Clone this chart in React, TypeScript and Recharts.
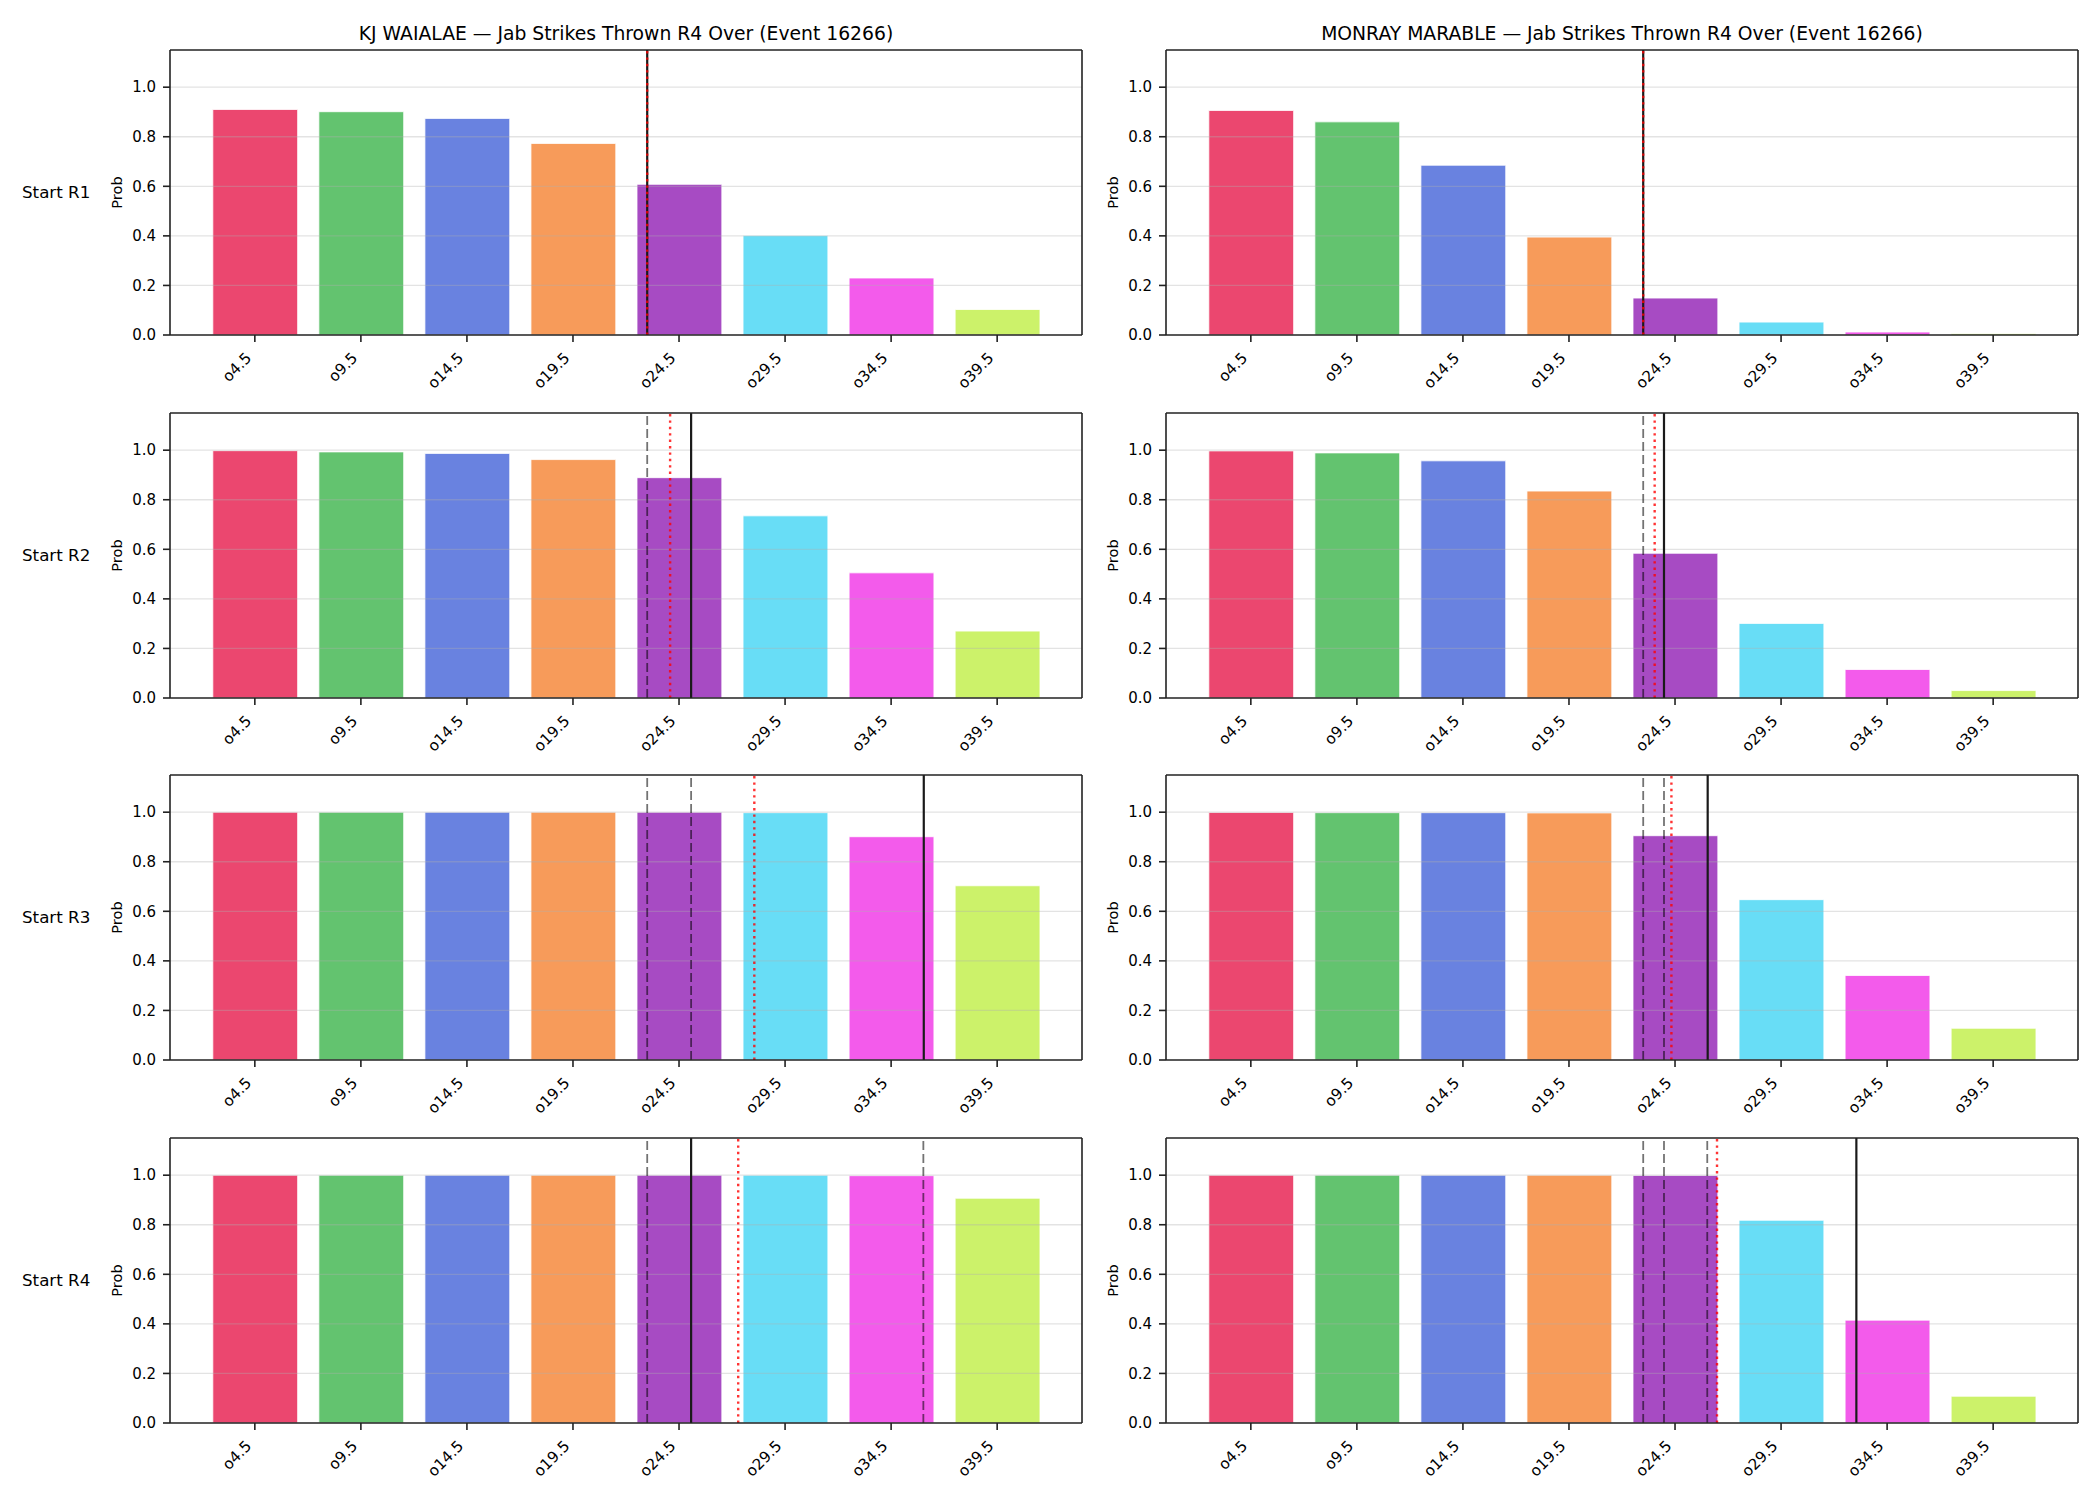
import { BarChart, Bar, Cell, XAxis, YAxis, ReferenceLine } from "recharts";

const thresholds = [4.5, 9.5, 14.5, 19.5, 24.5, 29.5, 34.5, 39.5];
const tickLabels = ["o4.5", "o9.5", "o14.5", "o19.5", "o24.5", "o29.5", "o34.5", "o39.5"];
const yTicks = [0, 0.2, 0.4, 0.6, 0.8, 1.0];
const barColors = ["#e6194b", "#3cb44b", "#4363d8", "#f58231", "#911eb4", "#42d4f4", "#f032e6", "#bfef45"];
const roundLabels = ["Start R1", "Start R2", "Start R3", "Start R4"];
const fighters = ["KJ WAIALAE", "MONRAY MARABLE"];
const market = "Jab Strikes Thrown R4 Over";
const eventId = 16266;

// P(over) for each threshold, one row per round start
const waialaeProbs = [
  [0.91, 0.901, 0.874, 0.773, 0.608, 0.401, 0.23, 0.103],
  [0.998, 0.993, 0.987, 0.962, 0.889, 0.735, 0.505, 0.27],
  [1, 1, 1, 1, 1, 0.998, 0.901, 0.703],
  [1, 1, 1, 1, 1, 1, 0.998, 0.907],
];
const marableProbs = [
  [0.906, 0.86, 0.685, 0.395, 0.149, 0.052, 0.012, 0.006],
  [0.997, 0.989, 0.957, 0.835, 0.584, 0.301, 0.115, 0.03],
  [0.999, 0.998, 0.998, 0.997, 0.905, 0.647, 0.341, 0.128],
  [1, 1, 1, 1, 0.999, 0.818, 0.415, 0.108],
];

// strike-count markers per round start
const waialaeSolid = [23.0, 25.07, 36.04, 25.07];
const waialaeRed = [23.0, 24.08, 28.05, 27.29];
const waialaeDashed = [[], [23.0], [23.0, 25.07], [23.0, 36.02]];
const marableSolid = [23.0, 23.98, 26.04, 33.05];
const marableRed = [23.0, 23.54, 24.33, 26.48];
const marableDashed = [[], [23.0], [23.0, 23.98], [23.0, 23.98, 26.02]];

const FONT = "'DejaVu Sans', Verdana, sans-serif";
const AX_LEFT = [170, 1166];
const AX_TOP = [50, 413, 775, 1138];
const PLOT_W = 912;
const PLOT_H = 285;
const Y_AXIS_W = 60;
const X_AXIS_H = 70;
const M = { top: 4, right: 4, bottom: 0, left: 0 };
const X_DOMAIN = [0.5, 43.5];
const Y_MAX = 1.15;
const SPINE = { stroke: "#222", strokeWidth: 1.6 };

const xTick = (bottom: number) => (props: any) => {
  const { x, payload } = props;
  const ax = x - 2.5;
  const ay = bottom + 24;
  return (
    <text
      x={ax}
      y={ay}
      transform={`rotate(-45 ${ax} ${ay})`}
      textAnchor="end"
      fontSize={15.2}
      fontFamily={FONT}
      fill="#000"
    >
      {tickLabels[thresholds.indexOf(payload.value)]}
    </text>
  );
};

function Panel({ probs, solid, red, dashed, left, top }: {
  probs: number[]; solid: number; red: number; dashed: number[]; left: number; top: number;
}) {
  const data = thresholds.map((t, i) => ({ t, p: probs[i] }));
  const barSize = (PLOT_W * 4) / (X_DOMAIN[1] - X_DOMAIN[0]);
  return (
    <div style={{ position: "absolute", left: left - Y_AXIS_W, top: top - M.top }}>
      <BarChart
        width={Y_AXIS_W + PLOT_W + M.right}
        height={M.top + PLOT_H + X_AXIS_H}
        data={data}
        margin={M}
      >
        <XAxis
          dataKey="t"
          type="number"
          domain={X_DOMAIN}
          ticks={thresholds}
          allowDataOverflow
          interval={0}
          height={X_AXIS_H}
          tickSize={7}
          tick={xTick(M.top + PLOT_H)}
          axisLine={SPINE}
          tickLine={SPINE}
        />
        <YAxis
          type="number"
          domain={[0, Y_MAX]}
          ticks={yTicks}
          allowDataOverflow
          width={Y_AXIS_W}
          tickSize={7}
          tickMargin={7}
          tickFormatter={(v: number) => v.toFixed(1)}
          tick={{ fontSize: 15, fontFamily: FONT, fill: "#000" }}
          axisLine={SPINE}
          tickLine={SPINE}
        />
        <Bar dataKey="p" barSize={barSize} isAnimationActive={false} stroke="#fff" strokeWidth={0.8}>
          {data.map((_, i) => (
            <Cell key={i} fill={barColors[i]} fillOpacity={0.8} />
          ))}
        </Bar>
        {yTicks.slice(1).map((v) => (
          <ReferenceLine key={"g" + v} y={v} stroke="#b0b0b0" strokeOpacity={0.35} strokeWidth={1.3} />
        ))}
        {dashed.map((v, i) => (
          <ReferenceLine key={"d" + i} x={v} stroke="#000" strokeOpacity={0.55} strokeWidth={1.8} strokeDasharray="9 4" />
        ))}
        <ReferenceLine x={solid} stroke="#1a1a1a" strokeWidth={2.2} />
        <ReferenceLine x={red} stroke="#ff0000" strokeOpacity={0.8} strokeWidth={2.4} strokeDasharray="2.4 4" />
        {/* top and right spines */}
        <ReferenceLine y={Y_MAX} stroke={SPINE.stroke} strokeWidth={SPINE.strokeWidth} />
        <ReferenceLine x={X_DOMAIN[1]} stroke={SPINE.stroke} strokeWidth={SPINE.strokeWidth} />
      </BarChart>
    </div>
  );
}

export default function App() {
  const sets = [
    { probs: waialaeProbs, solid: waialaeSolid, red: waialaeRed, dashed: waialaeDashed },
    { probs: marableProbs, solid: marableSolid, red: marableRed, dashed: marableDashed },
  ];
  return (
    <div style={{ position: "absolute", left: 0, top: 0, width: 2100, height: 1500, background: "#fff" }}>
      {sets.map((s, c) =>
        AX_TOP.map((top, r) => (
          <Panel
            key={`${c}-${r}`}
            probs={s.probs[r]}
            solid={s.solid[r]}
            red={s.red[r]}
            dashed={s.dashed[r]}
            left={AX_LEFT[c]}
            top={top}
          />
        ))
      )}
      <svg width={2100} height={1500} style={{ position: "absolute", left: 0, top: 0, pointerEvents: "none" }}>
        {fighters.map((name, c) => (
          <text
            key={name}
            x={AX_LEFT[c] + PLOT_W / 2}
            y={39.5}
            textAnchor="middle"
            fontSize={18.75}
            fontFamily={FONT}
            fill="#000"
          >
            {`${name} — ${market} (Event ${eventId})`}
          </text>
        ))}
        {roundLabels.map((label, r) => (
          <text key={label} x={22} y={AX_TOP[r] + PLOT_H / 2 + 5.5} fontSize={16.7} fontFamily={FONT} fill="#000">
            {label}
          </text>
        ))}
        {AX_TOP.map((top) =>
          AX_LEFT.map((left) => {
            const x = left - 48;
            const y = top + PLOT_H / 2;
            return (
              <text
                key={`${left}-${top}`}
                x={x}
                y={y}
                transform={`rotate(-90 ${x} ${y})`}
                textAnchor="middle"
                fontSize={14.6}
                fontFamily={FONT}
                fill="#000"
              >
                Prob
              </text>
            );
          })
        )}
      </svg>
    </div>
  );
}
